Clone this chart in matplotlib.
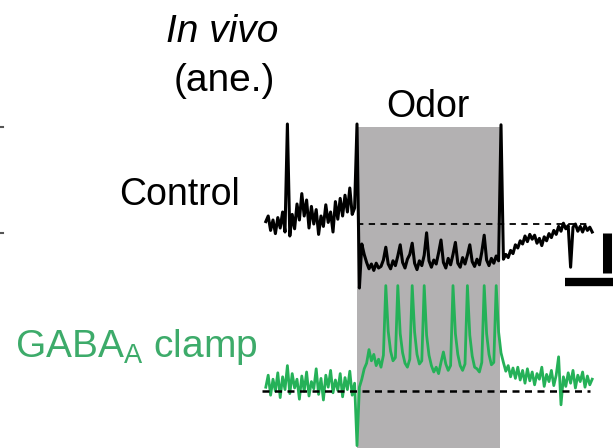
"""In vivo (anesthetized) membrane traces: control vs GABA_A clamp, odor window shaded."""

import matplotlib

matplotlib.use("Agg")
import matplotlib.pyplot as plt
import numpy as np
from matplotlib.lines import Line2D

plt.rcParams["font.family"] = ["Liberation Sans", "DejaVu Sans"]
plt.rcParams["mathtext.default"] = "regular"

# sampling of the read-off traces (s)
T0, DT = -1.9, 0.05
ODOR = (0.0, 2.98)          # odor on / off (s)
BAR_T, BAR_MV = 1.0, 5.0    # scale bars

# control trace, mV relative to pre-odor baseline
CONTROL_MV = [
    0.3, 1.0, -0.8, 0.5, -1.2, 0.8, -0.5, 1.5, -1.0, 12.5,
    -1.5, 1.2, -0.6, 2.5, 0.5, 3.8, 1.0, 3.0, -0.5, 2.2,
    0.0, 1.8, -1.3, 1.0, -0.3, 2.4, 0.2, 1.5, -1.0, 2.8,
    0.6, 3.2, 1.0, 3.6, 1.5, 4.5, 1.2, 2.0, 12.5, -8.0,
    -2.5, -3.8, -4.8, -5.6, -5.0, -5.8, -4.9, -5.5, -5.3, -4.5,
    -2.9, -5.0, -5.6, -4.6, -5.2, -4.0, -2.6, -4.8, -5.5, -4.4,
    -3.8, -2.4, -4.9, -5.7, -4.6, -5.2, -3.9, -1.1, -4.6, -5.4,
    -4.5, -5.0, -3.6, -2.0, -4.8, -5.5, -4.3, -5.1, -3.8, -2.3,
    -4.9, -5.4, -4.2, -5.0, -3.9, -2.6, -4.7, -5.3, -4.4, -5.1,
    -3.5, -1.4, -4.5, -5.2, -4.3, -4.9, -4.0, -4.6, 12.4, -4.4,
    -3.8, -4.2, -3.3, -3.7, -2.6, -3.0, -2.1, -2.5, -1.5, -2.2,
    -1.3, -1.9, -1.4, -2.4, -1.8, -2.7, -1.6, -2.1, -1.2, -1.7,
    -0.8, -1.3, -0.3, -0.9, 0.1, -0.6, -0.2, -5.4, -0.4, 0.0,
    -0.9, -0.3, -1.0, -0.2, -0.8, -0.4, -1.0,
]

# GABA_A clamp trace, mV relative to its own baseline
GREEN_MV = [
    0.5, 2.0, -0.5, 1.5, 0.0, 2.3, -0.8, 1.8, 0.2, 3.2,
    -0.3, 2.2, 0.4, 1.5, -1.0, 1.9, 0.0, 2.4, -0.6, 1.2,
    0.3, 2.8, -0.4, 1.6, -1.1, 2.0, 0.5, 2.6, -0.2, 1.4,
    0.1, 2.2, -0.7, 1.7, 0.2, 2.5, -0.5, 1.0, -6.8, 0.5,
    1.5, 2.8, 3.5, 5.2, 3.8, 4.6, 3.2, 4.0, 3.0, 4.5,
    13.2, 7.5, 5.0, 3.8, 4.2, 13.2, 7.2, 4.8, 3.5, 3.0,
    4.0, 13.2, 7.4, 4.6, 3.4, 3.8, 13.2, 7.0, 4.5, 3.2,
    2.4, 3.0, 2.2, 3.6, 4.9, 3.4, 2.6, 3.2, 13.2, 7.2,
    4.6, 3.2, 2.6, 3.4, 13.2, 7.0, 4.4, 3.0, 2.8, 2.4,
    3.6, 13.2, 7.2, 4.6, 3.3, 3.6, 13.2, 7.4, 4.8, 3.6,
    2.5, 3.2, 1.8, 2.9, 1.6, 3.0, 1.4, 2.6, 1.0, 2.8,
    1.3, 2.4, 0.8, 2.2, 1.5, 3.0, 0.6, 2.1, 1.2, 2.6,
    0.7, 2.0, 4.3, -1.7, 1.8, 0.6, 2.3, 1.0, 2.6, 0.4,
    2.0, 1.2, 2.4, 0.5, 1.9, 0.8, 1.5,
]

GREEN = "#25b158"
GREEN_TXT = "#3dab6a"
GRAY = "#b3b1b2"

W, H = 615, 448
GREEN_OFFSET = -20.9   # vertical stacking of the second trace (mV)


def fx(px):
    return px / W


def fy(py):
    return 1 - py / H


def main():
    assert len(CONTROL_MV) == len(GREEN_MV)
    t = T0 + DT * np.arange(len(CONTROL_MV))
    ctrl = np.array(CONTROL_MV)
    gaba = np.array(GREEN_MV) + GREEN_OFFSET

    fig = plt.figure(figsize=(W / 100, H / 100), dpi=100)
    ax = fig.add_axes([0, 0, 1, 1])
    ax.set_xlim(-7.4375, 5.375)
    ax.set_ylim(-28, 28)
    ax.axis("off")

    # odor window
    ax.fill_between(ODOR, -28, 12.1, color=GRAY, lw=0, zorder=0)

    ax.plot(t, ctrl, color="black", lw=2.2, zorder=3)
    ax.plot([0.0, 4.8], [0, 0], color="black", lw=1.3, ls=(0, (3.5, 3)), zorder=2)

    ax.plot(t, gaba, color=GREEN, lw=2.0, zorder=3)
    ax.plot([-1.98, 4.85], [GREEN_OFFSET, GREEN_OFFSET], color="black", lw=1.8,
            ls=(0, (2.8, 2.2)), zorder=4)

    # scale bars: 1 s, 5 mV
    ax.plot([5.21, 5.21], [-1.1, -1.1 - BAR_MV], color="black", lw=6.5,
            solid_capstyle="butt")
    ax.plot([4.33, 4.33 + BAR_T], [-7.3, -7.3], color="black", lw=6,
            solid_capstyle="butt")

    fig.text(fx(222), fy(42), "In vivo", style="italic", fontsize=28,
             ha="center", va="baseline")
    fig.text(fx(224), fy(91), "(ane.)", fontsize=28, ha="center", va="baseline")
    fig.text(fx(428), fy(117), "Odor", fontsize=27, ha="center", va="baseline")
    fig.text(fx(240), fy(205), "Control", fontsize=27, ha="right", va="baseline")
    fig.text(fx(257), fy(357), "GABA$_A$ clamp", fontsize=28, color=GREEN_TXT,
             ha="right", va="baseline")

    # marks of the neighbouring panel at the left edge
    for py in (127, 233):
        fig.add_artist(Line2D([0, fx(3)], [fy(py), fy(py)], color="#555555", lw=1.5))

    fig.savefig("out.png", dpi=100)


if __name__ == "__main__":
    main()
